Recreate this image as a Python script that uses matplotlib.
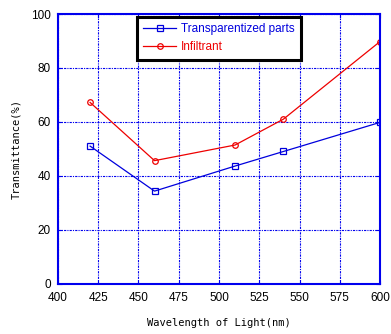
import matplotlib
matplotlib.use('Agg')
import matplotlib.pyplot as plt

# 数据
wavelength = [420, 460, 510, 540, 600]
transparentized = [51, 34.3, 43.6, 49, 59.8]
infiltrant = [67.2, 45.6, 51.4, 61, 89.8]

plt.rcParams['font.family'] = ['Liberation Sans', 'DejaVu Sans']

fig = plt.figure(figsize=(3.91, 3.34), dpi=100)
ax = fig.add_axes([0.148, 0.151, 0.824, 0.807])

ax.plot(wavelength, transparentized, color='#0000dd', lw=0.9, marker='s', ms=4,
        mfc='none', mew=0.9, label='Transparentized parts')
ax.plot(wavelength, infiltrant, color='#ee0000', lw=0.9, marker='o', ms=4,
        mfc='none', mew=0.9, label='Infiltrant')

ax.set_xlim(400, 600)
ax.set_ylim(0, 100)
ax.set_xticks(range(400, 601, 25))
ax.set_yticks(range(0, 101, 20))
ax.grid(True, color='#0000ee', lw=0.8, linestyle=(0, (2, 1, 1, 1)))
for s in ax.spines.values():
    s.set_color('#0000ee')
    s.set_linewidth(1.5)
ax.tick_params(direction='in', length=3, color='#0000ee', labelsize=8.5,
               top=True, right=True)
ax.tick_params(axis='x', pad=6)
ax.tick_params(axis='y', pad=5)

ax.set_xlabel('Wavelength of Light(nm)', family='DejaVu Sans Mono',
              fontsize=7.5, labelpad=10)
ax.set_ylabel('Transmittance(%)', family='DejaVu Sans Mono',
              fontsize=7.5, labelpad=7)

leg = ax.legend(loc='upper left', bbox_to_anchor=(0.245, 0.989), borderaxespad=0,
                fontsize=8.5, fancybox=False, framealpha=1, edgecolor='black',
                handlelength=2.8, handletextpad=0.4, borderpad=0.55,
                labelspacing=0.5)
leg.get_frame().set_linewidth(2.2)
for txt, c in zip(leg.get_texts(), ['#0000dd', '#ee0000']):
    txt.set_color(c)

fig.savefig('out.png', dpi=100)
